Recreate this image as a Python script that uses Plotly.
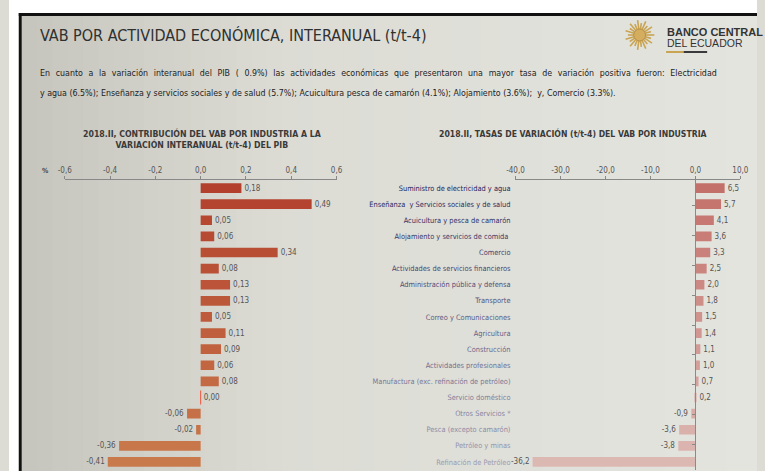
import math
import plotly.graph_objects as go

# ---------------- data ----------------
categories = [
    "Suministro de electricidad y agua",
    "Enseñanza  y Servicios sociales y de salud",
    "Acuicultura y pesca de camarón",
    "Alojamiento y servicios de comida ",
    "Comercio",
    "Actividades de servicios financieros",
    "Administración pública y defensa",
    "Transporte",
    "Correo y Comunicaciones",
    "Agricultura",
    "Construcción",
    "Actividades profesionales",
    "Manufactura (exc. refinación de petróleo)",
    "Servicio doméstico",
    "Otros Servicios *",
    "Pesca (excepto camarón)",
    "Petróleo y minas",
    "Refinación de Petróleo",
]
contribucion = [0.18, 0.49, 0.05, 0.06, 0.34, 0.08, 0.13, 0.13, 0.05, 0.11,
                0.09, 0.06, 0.08, 0.00, -0.06, -0.02, -0.36, -0.41]
tasas = [6.5, 5.7, 4.1, 3.6, 3.3, 2.5, 2.0, 1.8, 1.5, 1.4,
         1.1, 1.0, 0.7, 0.2, -0.9, -3.6, -3.8, -36.2]
left_ticks = [-0.6, -0.4, -0.2, 0.0, 0.2, 0.4, 0.6]
right_ticks = [-40, -30, -20, -10, 0, 10]

title = "VAB POR ACTIVIDAD ECONÓMICA, INTERANUAL (t/t-4)"
para1 = ("En cuanto a la variación interanual del PIB ( 0.9%) las actividades económicas que "
         "presentaron una mayor tasa de variación positiva fueron: Electricidad")
para2 = ("y agua (6.5%); Enseñanza y servicios sociales y de salud (5.7%); Acuicultura pesca de "
         "camarón (4.1%); Alojamiento (3.6%);  y, Comercio (3.3%).")
sub_left = "2018.II, CONTRIBUCIÓN DEL VAB POR INDUSTRIA A LA<br>VARIACIÓN INTERANUAL (t/t-4) DEL PIB"
sub_right = "2018.II, TASAS DE VARIACIÓN (t/t-4) DEL VAB POR INDUSTRIA"

# ---------------- helpers ----------------
W, H = 765, 471
NARROW = "DejaVu Sans Condensed, Liberation Sans Narrow, Arial Narrow, sans-serif"


def px(x):
    return x / W


def py(y):
    return 1 - y / H


def hexmix(c1, c2, t):
    a = [int(c1[i:i + 2], 16) for i in (1, 3, 5)]
    b = [int(c2[i:i + 2], 16) for i in (1, 3, 5)]
    return "#" + "".join(f"{round(a[k] + (b[k] - a[k]) * t):02x}" for k in range(3))


n = len(categories)
left_colors = [hexmix("#b3402d", "#c97a4c", i / (n - 1)) for i in range(n)]
right_colors = [hexmix("#c4706a", "#dcb8b3", i / (n - 1)) for i in range(n)]
label_colors = [hexmix("#23235a", "#9a9ab0", i / (n - 1)) for i in range(n)]

left_text = [f"{v:.2f}".replace(".", ",") for v in contribucion]
right_text = [f"{v:.1f}".replace(".", ",") for v in tasas]

fig = go.Figure()

fig.add_trace(go.Bar(
    x=contribucion, y=categories, orientation="h", xaxis="x", yaxis="y",
    marker=dict(color=left_colors, line=dict(width=0)),
    text=left_text, textposition="outside", cliponaxis=False,
    textfont=dict(family=NARROW, size=8, color="#555555"),
    hoverinfo="x+y", showlegend=False,
))
zero_idx = [i for i, v in enumerate(contribucion) if v == 0]
fig.add_trace(go.Scatter(
    x=[contribucion[i] for i in zero_idx], y=[categories[i] for i in zero_idx],
    xaxis="x", yaxis="y", mode="markers",
    marker=dict(symbol="line-ns-open", size=10, line=dict(width=1, color="#a0a0a0")),
    hoverinfo="skip", showlegend=False, cliponaxis=False,
))
fig.add_trace(go.Bar(
    x=tasas, y=categories, orientation="h", xaxis="x2", yaxis="y2",
    marker=dict(color=right_colors, line=dict(width=0)),
    text=right_text, textposition="outside", cliponaxis=False,
    textfont=dict(family=NARROW, size=8, color="#555555"),
    hoverinfo="x+y", showlegend=False,
))
fig.add_trace(go.Scatter(
    x=[0] * n, y=categories, xaxis="x2", yaxis="y3", mode="markers",
    marker=dict(opacity=0), hoverinfo="skip", showlegend=False,
))

ydom = [py(470), py(180)]
tickfont = dict(family=NARROW, size=8, color="#555555")

fig.update_layout(
    width=W, height=H, margin=dict(l=0, r=0, t=0, b=0),
    paper_bgcolor="#dcdcd5", plot_bgcolor="rgba(0,0,0,0)",
    bargap=0.4, showlegend=False,
    xaxis=dict(domain=[px(57), px(335)], range=[-0.6, 0.6], side="top", anchor="y",
               tickvals=left_ticks, ticktext=[f"{v:.1f}".replace(".", ",") for v in left_ticks],
               showline=True, linecolor="#888888", linewidth=1, ticks="outside", ticklen=3,
               tickcolor="#888888", showgrid=False, zeroline=False, tickfont=tickfont),
    yaxis=dict(domain=ydom, anchor="x", type="category", categoryorder="array",
               categoryarray=categories, autorange="reversed", showticklabels=False,
               showline=False, showgrid=False, zeroline=False, ticks=""),
    xaxis2=dict(domain=[px(518), px(748)], range=[-40, 10], side="top", anchor="y2",
                tickvals=right_ticks, ticktext=[f"{v:.1f}".replace(".", ",") for v in right_ticks],
                showline=True, linecolor="#888888", linewidth=1, ticks="outside", ticklen=3,
                tickcolor="#888888", showgrid=False, zeroline=False, tickfont=tickfont),
    yaxis2=dict(domain=ydom, anchor="x2", type="category", categoryorder="array",
                categoryarray=categories, autorange="reversed",
                tickvals=categories,
                ticktext=[f"<span style='color:{c}'>{t}</span>" for t, c in zip(categories, label_colors)],
                showline=False, showgrid=False, zeroline=False, ticks="",
                ticklabelstandoff=4,
                tickfont=dict(family=NARROW, size=7.4, color="#2a2a60")),
    yaxis3=dict(overlaying="y2", anchor="free", position=px(702), type="category",
                categoryorder="array", categoryarray=categories, autorange="reversed",
                showline=True, linecolor="#8a8a8a", linewidth=1, ticks="outside", ticklen=3,
                tickcolor="#8a8a8a", tickson="boundaries", showticklabels=False,
                showgrid=False, zeroline=False),
)

# ---------------- background / frame ----------------
shapes = []
steps = 48
x0 = 13
for k in range(steps):
    xa = x0 + (W - x0) * k / steps
    xb = x0 + (W - x0) * (k + 1) / steps + 1
    t = k / (steps - 1)
    if t < 0.35:
        col = hexmix("#c6c6be", "#dcdcd5", t / 0.35)
    else:
        col = hexmix("#dcdcd5", "#e4e4df", (t - 0.35) / 0.65)
    shapes.append(dict(type="rect", xref="paper", yref="paper", x0=px(xa), x1=px(min(xb, W)),
                       y0=0, y1=py(16), fillcolor=col, line=dict(width=0), layer="below"))
shapes += [
    dict(type="rect", xref="paper", yref="paper", x0=0, x1=1, y0=py(13), y1=1,
         fillcolor="#ffffff", line=dict(width=0), layer="below"),
    dict(type="rect", xref="paper", yref="paper", x0=0, x1=px(10), y0=0, y1=1,
         fillcolor="#ffffff", line=dict(width=0), layer="below"),
    dict(type="rect", xref="paper", yref="paper", x0=px(10), x1=1, y0=py(16), y1=py(13),
         fillcolor="#111111", line=dict(width=0), layer="below"),
    dict(type="rect", xref="paper", yref="paper", x0=px(10), x1=px(13), y0=0, y1=py(13),
         fillcolor="#111111", line=dict(width=0), layer="below"),
]

# logo sunburst
cx, cy = 645, 35
for k in range(22):
    a = 2 * math.pi * k / 22
    r1, r2 = 5, 15 if k % 2 == 0 else 12
    shapes.append(dict(type="line", xref="paper", yref="paper",
                       x0=px(cx + r1 * math.cos(a)), y0=py(cy + r1 * math.sin(a)),
                       x1=px(cx + r2 * math.cos(a)), y1=py(cy + r2 * math.sin(a)),
                       line=dict(color="#c9a452", width=1.6)))
shapes.append(dict(type="circle", xref="paper", yref="paper",
                   x0=px(cx - 6), x1=px(cx + 6), y0=py(cy + 6), y1=py(cy - 6),
                   fillcolor="#d4ad5e", line=dict(color="#b8924a", width=1)))
shapes.append(dict(type="rect", xref="paper", yref="paper", x0=px(672), x1=px(690),
                   y0=py(53), y1=py(51), fillcolor="#c9a452", line=dict(width=0)))
shapes.append(dict(type="rect", xref="paper", yref="paper", x0=px(690), x1=px(714),
                   y0=py(53), y1=py(51), fillcolor="#3a3a3a", line=dict(width=0)))
fig.update_layout(shapes=shapes)

para1_j = para1.replace(" ", " \u2009\u2009")

ann = [
    dict(text=title, x=px(30), y=py(36), xanchor="left", yanchor="middle",
         font=dict(family=NARROW, size=16, color="#303030")),
    dict(text=para1_j, x=px(30), y=py(73), xanchor="left", yanchor="middle",
         font=dict(family=NARROW, size=8.8, color="#222222")),
    dict(text=para2, x=px(30), y=py(93), xanchor="left", yanchor="middle",
         font=dict(family=NARROW, size=8.8, color="#222222")),
    dict(text="<b>" + sub_left + "</b>", x=px(198), y=py(139), xanchor="center", yanchor="middle",
         font=dict(family=NARROW, size=8.7, color="#3a3a3a")),
    dict(text="<b>" + sub_right + "</b>", x=px(577), y=py(134), xanchor="center", yanchor="middle",
         font=dict(family=NARROW, size=8.6, color="#3a3a3a")),
    dict(text="<b>%</b>", x=px(37), y=py(171), xanchor="center", yanchor="middle",
         font=dict(family=NARROW, size=7, color="#444444")),
    dict(text="<b>BANCO CENTRAL</b>", x=px(671), y=py(32), xanchor="left", yanchor="middle",
         font=dict(family="Liberation Sans, Arial, sans-serif", size=11, color="#333333")),
    dict(text="DEL ECUADOR", x=px(671), y=py(43), xanchor="left", yanchor="middle",
         font=dict(family="Liberation Sans, Arial, sans-serif", size=10.5, color="#333333")),
]
for a in ann:
    a.update(xref="paper", yref="paper", showarrow=False)
fig.update_layout(annotations=ann)

fig.write_html("out.html")
